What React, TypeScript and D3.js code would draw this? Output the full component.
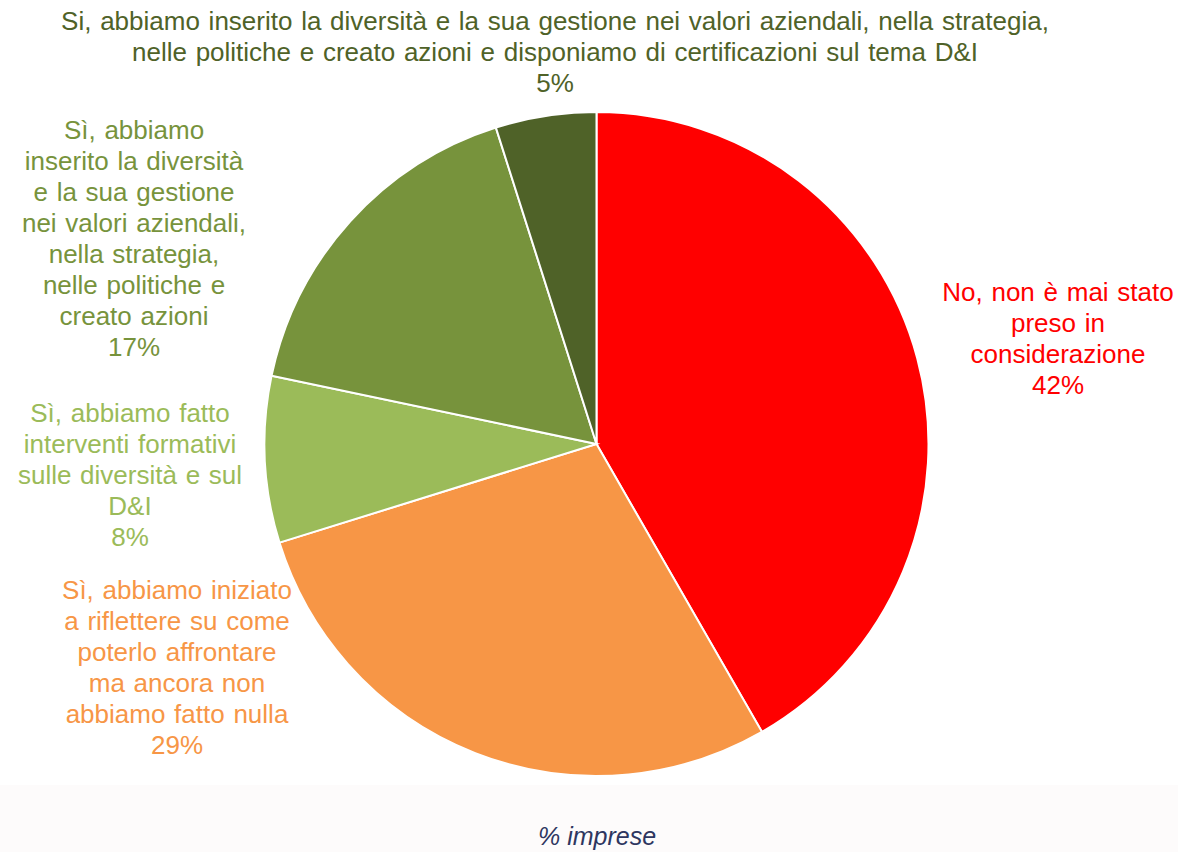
import React from "react";
import * as d3 from "d3";

const categories = [
  "No, non è mai stato preso in considerazione",
  "Sì, abbiamo iniziato a riflettere su come poterlo affrontare ma ancora non abbiamo fatto nulla",
  "Sì, abbiamo fatto interventi formativi sulle diversità e sul D&I",
  "Sì, abbiamo inserito la diversità e la sua gestione nei valori aziendali, nella strategia, nelle politiche e creato azioni",
  "Si, abbiamo inserito la diversità e la sua gestione nei valori aziendali, nella strategia, nelle politiche e creato azioni e disponiamo di certificazioni sul tema D&I",
];
const values = [41.7, 28.5, 8.1, 16.8, 4.9];
const percentLabels = ["42%", "29%", "8%", "17%", "5%"];
const labelLines = [
  ["No, non è mai stato", "preso in", "considerazione"],
  ["Sì, abbiamo iniziato", "a riflettere su come", "poterlo affrontare", "ma ancora non", "abbiamo fatto nulla"],
  ["Sì, abbiamo fatto", "interventi formativi", "sulle diversità e sul", "D&I"],
  ["Sì, abbiamo", "inserito la diversità", "e la sua gestione", "nei valori aziendali,", "nella strategia,", "nelle politiche e", "creato azioni"],
  [
    "Si, abbiamo inserito la diversità e la sua gestione nei valori aziendali, nella strategia,",
    "nelle politiche e creato azioni e disponiamo di certificazioni sul tema D&I",
  ],
];
const colors = ["#FF0000", "#F79646", "#9BBB59", "#77933C", "#4F6228"];
// label anchor: center x, center y of first line
const labelPos = [
  { x: 1058, y: 292 },
  { x: 177, y: 590 },
  { x: 130, y: 413 },
  { x: 134, y: 130 },
  { x: 555, y: 21 },
];

const W = 1178;
const H = 852;
const cx = 596.5;
const cy = 444;
const R = 332;
const lineH = 31;
const fontSize = 26;

export default function App() {
  const pie = d3
    .pie<number>()
    .sort(null)
    .value((d) => d)
    .startAngle(0)
    .endAngle(2 * Math.PI);
  const arcs = pie(values);
  const arc = d3.arc<d3.PieArcDatum<number>>().innerRadius(0).outerRadius(R);

  return (
    <svg
      width={W}
      height={H}
      style={{ position: "absolute", left: 0, top: 0, display: "block" }}
      fontFamily="'Liberation Sans', Arial, sans-serif"
    >
      <rect x={0} y={0} width={W} height={H} fill="#ffffff" />
      <rect x={0} y={785} width={W} height={H - 785} fill="#FDFBFB" />
      <g transform={`translate(${cx},${cy})`}>
        {arcs.map((a, i) => (
          <path
            key={categories[i]}
            d={arc(a) || ""}
            fill={colors[i]}
            stroke="#ffffff"
            strokeWidth={2}
          />
        ))}
      </g>
      {labelLines.map((lines, i) => {
        const all = [...lines, percentLabels[i]];
        return (
          <text
            key={"l" + i}
            fill={colors[i]}
            fontSize={fontSize}
            textAnchor="middle"
            wordSpacing={1.5}
          >
            {all.map((t, j) => (
              <tspan
                key={j}
                x={labelPos[i].x}
                y={labelPos[i].y + j * lineH + fontSize * 0.36}
              >
                {t}
              </tspan>
            ))}
          </text>
        );
      })}
      <text
        x={597}
        y={845}
        textAnchor="middle"
        fontSize={25}
        fontStyle="italic"
        fill="#2E3660"
      >
        % imprese
      </text>
    </svg>
  );
}
